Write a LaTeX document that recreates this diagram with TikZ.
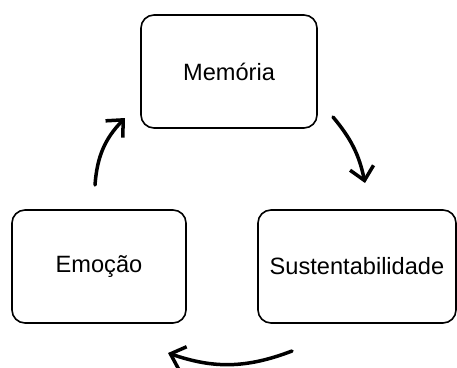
\documentclass[tikz,border=0pt]{standalone}
\usepackage{fontspec}
\setmainfont{Liberation Sans}
\usetikzlibrary{arrows.meta}
\tikzset{caixa/.style={draw,line width=1.6pt,rounded corners=13pt,minimum height=113pt,
    font=\fontsize{23.6}{28}\selectfont},
  seta/.style={line width=3.5pt,line cap=round,line join=round,
    -{Straight Barb[length=13pt,width=24pt,line width=3.5pt]}}}

\begin{document}
\begin{tikzpicture}[x=1pt,y=-1pt]
\useasboundingbox (0,0) rectangle (457,367);

\node[caixa,minimum width=176pt] (mem) at (229,71.5) {Memória};
\node[caixa,minimum width=174pt] (emo) at (99,266.5) {Emoção};
\node[caixa,minimum width=198pt] (sus) at (357,266.5) {Sustentabilidade};

\coordinate (a1) at (95,185);
\coordinate (a2) at (125,118);
\coordinate (b1) at (333,117);
\coordinate (b2) at (365,183);
\coordinate (c1) at (292,351);
\coordinate (c2) at (168,353);

\draw[seta] (a1) to[bend left=20] (a2);
\draw[seta] (b1) to[bend left=14] (b2);
\draw[seta] (c1) to[bend left=20] (c2);

\end{tikzpicture}
\end{document}
